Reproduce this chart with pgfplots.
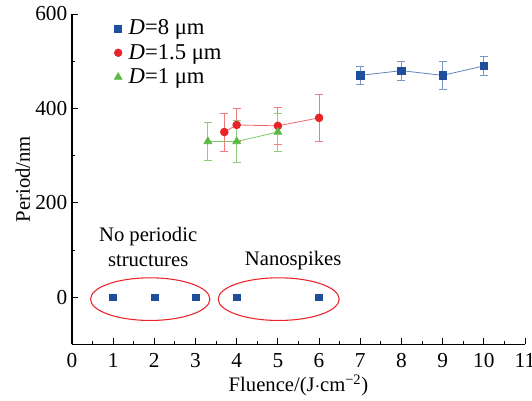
\documentclass[border=0pt]{standalone}
\usepackage{pgfplots}
\pgfplotsset{compat=1.18}
\usepackage{fontspec}
\setmainfont{Liberation Serif}
\definecolor{cblue}{HTML}{1F4E9C}
\definecolor{cred}{HTML}{E8232A}
\definecolor{cgreen}{HTML}{5CB843}
\newcommand\bigfont{\fontsize{15.5}{19}\selectfont}
\newcommand\legfont{\fontsize{17}{19}\selectfont}
\begin{document}
\begin{tikzpicture}[font=\bigfont]
\begin{axis}[
scale only axis,
width=340pt, height=248pt,
xmin=0, xmax=11, ymin=-100, ymax=600,
xtick={0,1,...,11}, ytick={0,200,400,600},
minor x tick num=1, minor y tick num=1,
axis lines*=left,
axis line style={line width=0.9pt},
tick align=inside,
major tick length=4.5pt, minor tick length=2.5pt,
tick style={line width=0.7pt, black},
/pgf/number format/assume math mode=true,
tick label style={font=\fontsize{16}{19}\selectfont},
xticklabel style={yshift=-3pt},
label style={font=\bigfont},
xlabel={Fluence/(J$\cdot$cm\textsuperscript{−2})},
ylabel={Period/nm},
xlabel style={yshift=1pt},
ylabel style={yshift=-3pt},
legend style={at={(rel axis cs:0.09,0.995)}, anchor=north west, draw=none, fill=none,
  row sep=1.5pt, column sep=3pt, font=\legfont, inner sep=1pt},
legend cell align=left,
error bars/y dir=both, error bars/y explicit,
clip=false,
]
\addlegendimage{only marks, mark=square*, color=cblue, mark size=2.6pt}
\addlegendentry{\textit{D}=8 μm}
\addlegendimage{only marks, mark=*, color=cred, mark size=2.9pt}
\addlegendentry{\textit{D}=1.5 μm}
\addlegendimage{only marks, mark=triangle*, color=cgreen, mark size=3.3pt}
\addlegendentry{\textit{D}=1 μm}

% D=8 um
\addplot [color=cblue!70, line width=0.6pt, mark=square*, mark size=2.75pt,
  mark options={cblue, solid},
  error bars/error bar style={cblue!60, line width=0.6pt},
  error bars/error mark options={rotate=90, mark size=3pt, cblue!60, line width=0.6pt},
  forget plot]
  coordinates {(7,470) +- (0,20) (8,480) +- (0,20) (9,470) +- (0,30) (10,490) +- (0,20)};
% D=1.5 um
\addplot [color=cred!70, line width=0.6pt, mark=*, mark size=2.9pt,
  mark options={cred, solid},
  error bars/error bar style={cred!60, line width=0.6pt},
  error bars/error mark options={rotate=90, mark size=3pt, cred!60, line width=0.6pt},
  forget plot]
  coordinates {(3.7,350) +- (0,40) (4,365) +- (0,35) (5,363) +- (0,40) (6,380) +- (0,50)};
% D=1 um
\addplot [color=cgreen!80, line width=0.6pt, mark=triangle*, mark size=3.3pt,
  mark options={cgreen, solid},
  error bars/error bar style={cgreen!70, line width=0.6pt},
  error bars/error mark options={rotate=90, mark size=3pt, cgreen!70, line width=0.6pt},
  forget plot]
  coordinates {(3.3,330) +- (0,40) (4,330) +- (0,45) (5,350) +- (0,40)};
% no period
\addplot [only marks, mark=square*, mark size=2.6pt, color=cblue, forget plot]
  coordinates {(1,0) (2,0) (3,0) (4,0) (6,0)};

\draw[cred, line width=0.8pt] (axis cs:1.9,-4) ellipse [x radius=44.8pt, y radius=16pt];
\draw[cred, line width=0.8pt] (axis cs:5.02,-4) ellipse [x radius=45.4pt, y radius=16pt];
\node[align=center, font=\bigfont] at (axis cs:1.85,106) {No periodic\\structures};
\node[font=\bigfont] at (axis cs:5.37,78) {Nanospikes};
\end{axis}
\pgfresetboundingbox
\path (current axis.south west) ++(-54pt,-42pt) coordinate (bl);
\path (current axis.south west) ++(345.25pt,258.5pt) coordinate (tr);
\useasboundingbox (bl) rectangle (tr);
\end{tikzpicture}
\end{document}
